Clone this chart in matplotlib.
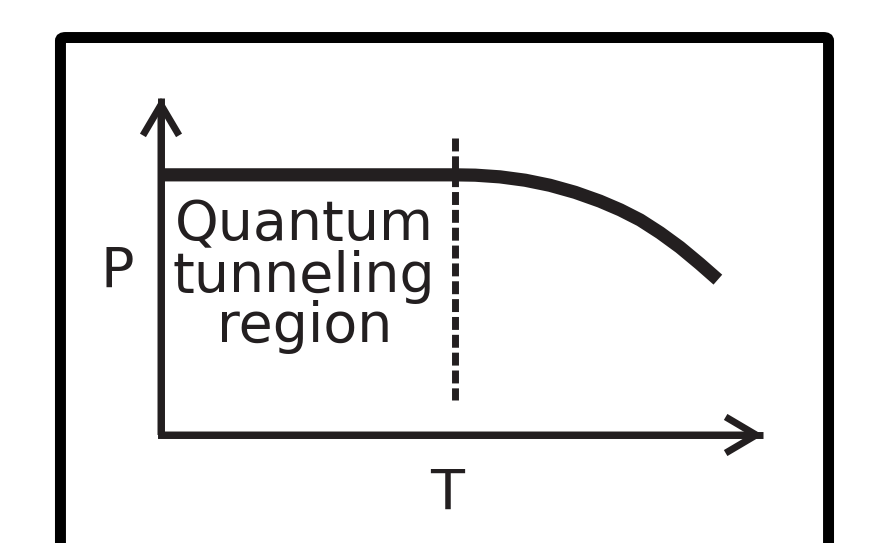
import matplotlib.pyplot as plt
from matplotlib.patches import FancyArrowPatch, FancyBboxPatch

# Schematic P(T) curve: flat in the quantum tunneling region, falling off above T_c
T_curve = [0.0, 0.488, 0.522, 0.563, 0.605, 0.646, 0.688, 0.729, 0.763,
           0.796, 0.829, 0.862, 0.895, 0.925]
P_curve = [0.772, 0.772, 0.771, 0.766, 0.756, 0.741, 0.720, 0.694, 0.668,
           0.638, 0.600, 0.557, 0.508, 0.461]
T_c = 0.488
dash_range = [0.881, 0.104]

region_lines = ["Quantum", "tunneling", "region"]
region_baselines = [0.579, 0.424, 0.276]

ink = "#231f20"
fs = 40

fig = plt.figure(figsize=(8.75, 5.43), dpi=100)
ax = fig.add_axes([0, 0, 1, 1])
ax.set_xlim(-0.2674, 1.186)
ax.set_ylim(-0.3205, 1.2908)
ax.axis("off")

# outer frame (runs off the bottom of the picture)
frame = FancyBboxPatch((0.0691, -0.2), 0.9469 - 0.0691, 0.9309 + 0.2,
                       boxstyle="round,pad=0,rounding_size=0.006",
                       transform=ax.transAxes, fill=False, edgecolor="black",
                       linewidth=7.9, joinstyle="miter")
ax.add_patch(frame)

# axes with open arrowheads
ax.plot([0, 0, 1], [1, 0, 0], color=ink, lw=5, solid_joinstyle="miter",
        solid_capstyle="butt")
for tip in [(0, 1), (1, 0)]:
    arr = FancyArrowPatch((0, 0), tip, arrowstyle="->,head_length=22,head_width=13",
                          mutation_scale=1, color=ink, lw=5, shrinkA=0, shrinkB=0,
                          joinstyle="miter", capstyle="butt")
    ax.add_patch(arr)

# P(T) curve
ax.plot(T_curve, P_curve, color=ink, lw=9.5, solid_capstyle="butt",
        solid_joinstyle="round")

# dashed boundary of tunneling region
ax.plot([T_c, T_c], dash_range, color=ink, lw=5, linestyle=(0, (1.86, 0.71)),
        dash_capstyle="butt")

ax.text(-0.072, 0.439, "P", fontsize=fs, color=ink, ha="center", va="baseline")
ax.text(0.476, -0.2196, "T", fontsize=fs, color=ink, ha="center", va="baseline")
for line, yb in zip(region_lines, region_baselines):
    ax.text(0.238, yb, line, fontsize=fs, color=ink, ha="center", va="baseline")

fig.savefig("out.png", dpi=100)
